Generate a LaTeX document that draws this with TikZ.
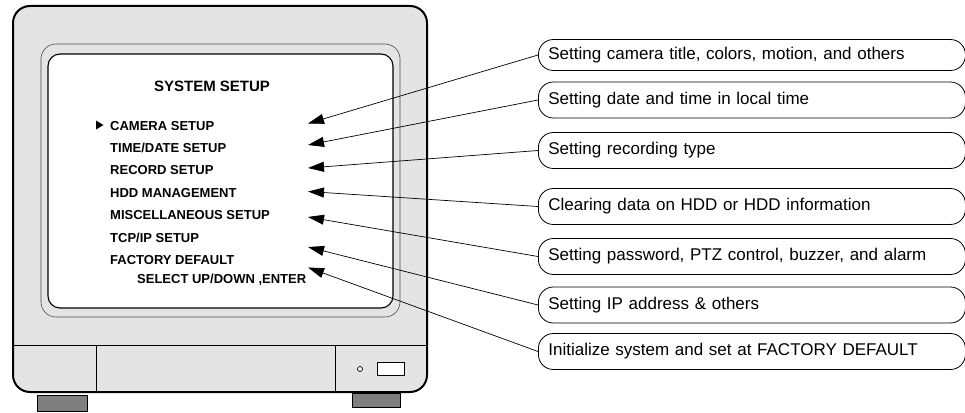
\documentclass[tikz,border=0pt]{standalone}
\usepackage{fontspec}
\setmainfont{Liberation Sans}
\usetikzlibrary{positioning,arrows.meta}
\definecolor{ink}{HTML}{000000}
\definecolor{casing}{HTML}{E4E4E4}
\definecolor{footc}{HTML}{7F7F7F}
\definecolor{bezelc}{HTML}{4A4A4A}

\begin{document}
\begin{tikzpicture}[
  x=1pt, y=-1pt,
  menu/.style={anchor=west, inner sep=0pt, color=ink, font=\fontsize{13}{15}\selectfont\bfseries},
  infobox/.style={draw=ink, line width=0.8pt, rounded corners=15pt, anchor=west,
    minimum width=427pt, minimum height=36pt, text width=407pt, inner xsep=10pt,
    inner ysep=0pt, align=left, font=\fontsize{17}{20}\selectfont},
  callout/.style={draw=ink, line width=0.7pt, -{Triangle[length=16pt,width=10pt]}}
]
\useasboundingbox (0,0) rectangle (965,412);

% Feet
\draw[line width=0.6pt, fill=footc] (37,395) rectangle (87,411);
\draw[line width=0.6pt, fill=footc] (352,393) rectangle (400,407);

% Monitor casing
\draw[line width=2pt, fill=casing, rounded corners=17pt] (13,6) rectangle (427,392);
\draw[line width=0.6pt, draw=bezelc, rounded corners=15pt] (41,44) rectangle (400,317);
\draw[line width=1.1pt, fill=white, rounded corners=12pt] (48,54) rectangle (393,308);

% Control panel
\draw[line width=0.8pt] (13,345) -- (427,345);
\draw[line width=0.8pt] (96,345) -- (96,392);
\draw[line width=0.8pt] (335,345) -- (335,392);
\draw[line width=0.7pt, fill=white] (360,369) circle (2.5pt);
\draw[line width=0.8pt, fill=white] (377,362) rectangle (404,375);

% Screen menu
\node[font=\fontsize{15}{18}\selectfont\bfseries, color=ink] (title) at (212,86) {SYSTEM SETUP};
\fill[ink] (96,120.5) -- (103.5,125) -- (96,129.5) -- cycle;
\node[menu] (camera) at (110,126) {CAMERA SETUP};
\node[menu] (timedate) at (110,148) {TIME/DATE SETUP};
\node[menu] (record) at (110,170) {RECORD SETUP};
\node[menu] (hdd) at (110,193) {HDD MANAGEMENT};
\node[menu] (misc) at (110,215) {MISCELLANEOUS SETUP};
\node[menu] (tcpip) at (110,238) {TCP/IP SETUP};
\node[menu] (factory) at (110,260) {FACTORY DEFAULT};
\node[menu] (select) at (137,280) {SELECT UP/DOWN ,ENTER};

% Descriptions
\node[infobox, minimum height=31pt] (box1) at (538,55) {Setting camera title, colors, motion, and others};
\node[infobox] (box2) at (538,100) {Setting date and time in local time};
\node[infobox] (box3) at (538,150.5) {Setting recording type};
\node[infobox] (box4) at (538,206.5) {Clearing data on HDD or HDD information};
\node[infobox] (box5) at (538,256.5) {Setting password, PTZ control, buzzer, and alarm};
\node[infobox] (box6) at (538,305) {Setting IP address \& others};
\node[infobox] (box7) at (538,351.5) {Initialize system and set at FACTORY DEFAULT};

% Callout arrows
\foreach \i/\ty in {1/123.5,2/145,3/168,4/191.5,5/217,6/247,7/267.5} {
  \coordinate (tip\i) at (308,\ty);
  \draw[callout] (box\i.west) -- (tip\i);
}

\end{tikzpicture}
\end{document}
